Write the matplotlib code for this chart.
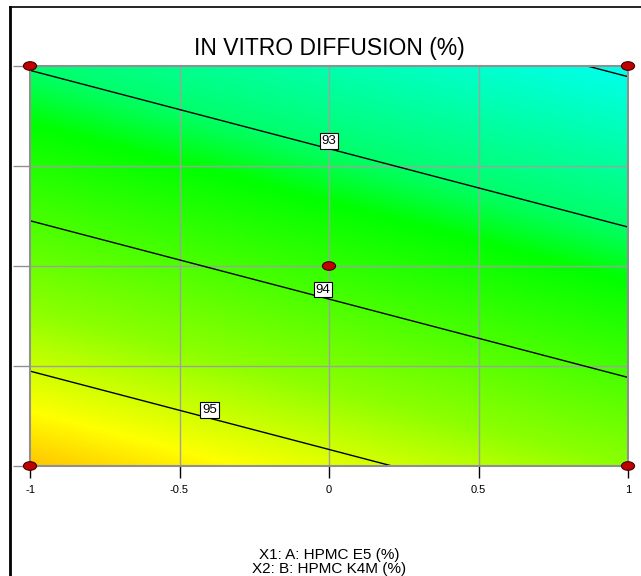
import numpy as np
import matplotlib
matplotlib.use("Agg")
import matplotlib.pyplot as plt
from matplotlib.colors import LinearSegmentedColormap, Normalize
from matplotlib.patches import Ellipse
from matplotlib.lines import Line2D

plt.rcParams['font.family'] = ['Liberation Sans', 'DejaVu Sans']

# Fitted response model in coded units: Y = b0 + bA*A + bB*B
coef_names = ["Intercept", "A", "B"]
coef_values = [93.78, -0.521, -1.33]

contour_levels = [92, 93, 94, 95]
label_levels = [93, 94, 95]
label_pos_A = [0.0, -0.02, -0.40]

design_A = [-1, 1, -1, 1, 0]
design_B = [-1, -1, 1, 1, 0]

x_ticks = [-1, -0.5, 0, 0.5, 1]
x_tick_labels = ["-1", "-0.5", "0", "0.5", "1"]
y_ticks = [-1, -0.5, 0, 0.5, 1]

title = "IN VITRO DIFFUSION (%)"
x1_label = "X1: A: HPMC E5 (%)"
x2_label = "X2: B: HPMC K4M (%)"

# colour ramp: cyan -> green -> yellow -> orange
ramp_values = [91.9, 92.97, 93.12, 93.35, 94.59, 95.27, 95.65]
ramp_colors = ["#00fff2", "#00ff6e", "#00ff46", "#00ff00", "#8cff00", "#ffff00", "#ffc200"]

b0, bA, bB = coef_values


def response(a, b):
    return b0 + bA * a + bB * b


def b_on_level(level, a):
    return (level - b0 - bA * a) / bB


A = np.linspace(-1, 1, 301)
B = np.linspace(-1, 1, 301)
AA, BB = np.meshgrid(A, B)
Y = response(AA, BB)

vmin, vmax = ramp_values[0], ramp_values[-1]
nodes = [(v - vmin) / (vmax - vmin) for v in ramp_values]
cmap = LinearSegmentedColormap.from_list("de", list(zip(nodes, ramp_colors)))

fig = plt.figure(figsize=(6.41, 5.76), dpi=100)
ax = fig.add_axes([30 / 641, 110 / 576, 598 / 641, 400 / 576])

ax.pcolormesh(AA, BB, Y, cmap=cmap, norm=Normalize(vmin, vmax),
              shading="gouraud", zorder=0)

for g in [-0.5, 0, 0.5]:
    ax.axvline(g, color="#a0a0a0", lw=1, zorder=1)
    ax.axhline(g, color="#a0a0a0", lw=1, zorder=1)

ax.contour(AA, BB, Y, levels=contour_levels, colors="black",
           linewidths=1, zorder=2)

# value labels sit just above the point where they touch their contour
for lev, a in zip(label_levels, label_pos_A):
    ax.text(a, b_on_level(lev, a) + 0.04, f"{lev}", ha="center", va="center",
            fontsize=9.5, zorder=5,
            bbox=dict(facecolor="white", edgecolor="black", pad=1.4, lw=0.8))

for a, b in zip(design_A, design_B):
    ax.add_patch(Ellipse((a, b), 0.044, 0.043, facecolor="#c00000",
                         edgecolor="#400000", lw=0.8, clip_on=False, zorder=6))

ax.set_xlim(-1, 1)
ax.set_ylim(-1, 1)
ax.set_xticks(x_ticks)
ax.set_xticklabels(x_tick_labels, fontsize=8)
ax.set_yticks(y_ticks)
ax.set_yticklabels([])
ax.tick_params(axis="x", length=8.5, width=1, color="black", pad=5)
ax.tick_params(axis="y", length=12.5, width=1, color="#909090")
for s in ax.spines.values():
    s.set_color("#909090")
    s.set_linewidth(1.5)

fig.text(329 / 641, 1 - 49 / 576, title, ha="center", va="center", fontsize=16.5)
fig.text(329 / 641, 1 - 554.5 / 576, x1_label, ha="center", va="center", fontsize=11)
fig.text(329 / 641, 1 - 568.5 / 576, x2_label, ha="center", va="center", fontsize=11)

# outer frame: left and top edges
fig.add_artist(Line2D([10 / 641, 10 / 641], [0, 1 - 7 / 576],
                      transform=fig.transFigure, color="black", lw=2))
fig.add_artist(Line2D([10 / 641, 1], [1 - 7 / 576, 1 - 7 / 576],
                      transform=fig.transFigure, color="black", lw=1.2))

fig.savefig("out.png", dpi=100)
